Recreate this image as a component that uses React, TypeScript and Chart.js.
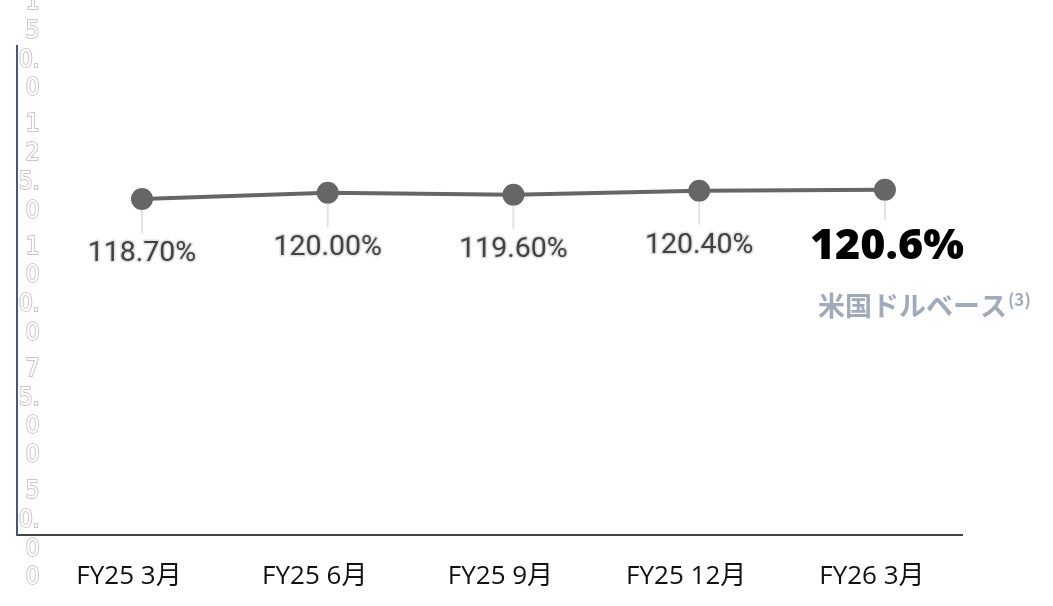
import { useEffect, useRef } from "react";
import { Chart, registerables } from "chart.js";

Chart.register(...registerables);

// Quarter-end periods along the x axis
const PERIODS = ["FY25 3月", "FY25 6月", "FY25 9月", "FY25 12月", "FY26 3月"];
// Ratio (%) at each period
const RATIO = [118.7, 120.0, 119.6, 120.4, 120.6];
// Value axis range and tick step
const Y_MIN = 50;
const Y_MAX = 150;
const Y_STEP = 25;
// Horizontal extent of the period axis (in period index units)
const X_MIN = -0.673;
const X_MAX = 4.415;
// Caption under the latest value
const LATEST_NOTE = "米国ドルベース";
const LATEST_NOTE_MARK = "(3)";

const WIDTH = 1053;
const HEIGHT = 606;
const POINT_RADIUS = 11;
const X_AXIS_HEIGHT = 71;

// "150.0" -> ["1", "5", "0.", "0"]: one character per line, decimal point kept with its digit
function stackDigits(v: number): string[] {
  const s = Number(v).toPrecision(4);
  const lines: string[] = [];
  for (const ch of s) {
    if (ch === "." && lines.length) lines[lines.length - 1] += ch;
    else lines.push(ch);
  }
  return lines;
}

const valueLabels = {
  id: "valueLabels",
  afterDatasetsDraw(chart: any) {
    const ctx: CanvasRenderingContext2D = chart.ctx;
    const meta = chart.getDatasetMeta(0);
    const lastIndex = meta.data.length - 1;
    meta.data.forEach((pt: any, i: number) => {
      const { x, y } = pt.getProps(["x", "y"], true);
      const value = RATIO[i];
      const isLatest = i === lastIndex;
      ctx.save();
      // leader from the marker down to its label
      ctx.strokeStyle = "#e2e2e2";
      ctx.lineWidth = 2;
      ctx.beginPath();
      ctx.moveTo(x, y + POINT_RADIUS);
      ctx.lineTo(x, y + (isLatest ? 30 : 34));
      ctx.stroke();

      ctx.textAlign = "center";
      ctx.textBaseline = "middle";
      ctx.lineJoin = "round";
      if (isLatest) {
        ctx.font = "800 43px 'Open Sans'";
        ctx.fillStyle = "#000000";
        ctx.fillText(value.toFixed(1) + "%", x + 2, y + 57);

        ctx.textAlign = "left";
        ctx.font = "bold 27px 'Noto Sans CJK JP'";
        ctx.fillStyle = "#a1aab8";
        const noteX = x - 67;
        const noteY = y + 116;
        ctx.fillText(LATEST_NOTE, noteX, noteY);
        const w = ctx.measureText(LATEST_NOTE).width;
        ctx.font = "bold 17px 'Noto Sans CJK JP'";
        ctx.fillText(LATEST_NOTE_MARK, noteX + w + 1, noteY - 6);
      } else {
        const text = value.toFixed(2) + "%";
        const ty = y + 55;
        ctx.font = "28.5px Roboto";
        ctx.strokeStyle = "#e0e0e0";
        ctx.lineWidth = 3;
        ctx.strokeText(text, x, ty);
        ctx.fillStyle = "#424242";
        ctx.fillText(text, x, ty);
      }
      ctx.restore();
    });
  },
};

export default function App() {
  const canvasRef = useRef<HTMLCanvasElement | null>(null);

  useEffect(() => {
    if (!canvasRef.current) return;
    const chart = new Chart(canvasRef.current, {
      type: "line",
      data: {
        datasets: [
          {
            data: RATIO.map((v, i) => ({ x: i, y: v })),
            borderColor: "#666666",
            borderWidth: 4,
            pointRadius: POINT_RADIUS,
            pointBackgroundColor: "#666666",
            pointBorderColor: "#666666",
            pointBorderWidth: 0,
            tension: 0,
          },
        ],
      },
      options: {
        animation: false,
        responsive: false,
        layout: { padding: { left: 13, top: 46, right: 91, bottom: 0 } },
        plugins: { legend: { display: false }, tooltip: { enabled: false } },
        scales: {
          x: {
            type: "linear",
            min: X_MIN,
            max: X_MAX,
            afterBuildTicks: (scale: any) => {
              scale.ticks = PERIODS.map((_, i) => ({ value: i }));
            },
            afterFit: (scale: any) => {
              scale.height = X_AXIS_HEIGHT;
            },
            grid: { display: false, drawTicks: false },
            border: { display: true, color: "#444444", width: 2 },
            ticks: {
              autoSkip: false,
              maxRotation: 0,
              padding: 26,
              labelOffset: -13,
              color: "#111111",
              font: { family: "'Open Sans', 'Noto Sans CJK JP'", size: 26 },
              callback: (v: any) => PERIODS[Number(v)] ?? "",
            },
          },
          y: {
            min: Y_MIN,
            max: Y_MAX,
            grid: { display: false, drawTicks: false },
            border: { display: true, color: "#4b5577", width: 2 },
            afterFit: (scale: any) => {
              scale.paddingTop = 0;
              scale.paddingBottom = 0;
            },
            ticks: {
              stepSize: Y_STEP,
              autoSkip: false,
              mirror: true,
              crossAlign: "far",
              padding: 2,
              color: "#ffffff",
              textStrokeColor: "#c8c8c8",
              textStrokeWidth: 2,
              font: {
                family: "'Liberation Sans Narrow', 'DejaVu Sans Condensed', 'Liberation Sans'",
                size: 24,
                lineHeight: 1.2,
              },
              callback: (v: any) => stackDigits(Number(v)),
            },
          },
        },
      },
      plugins: [valueLabels],
    });
    return () => chart.destroy();
  }, []);

  return (
    <div style={{ position: "fixed", left: 0, top: 0, width: WIDTH, height: HEIGHT }}>
      <canvas ref={canvasRef} width={WIDTH} height={HEIGHT} />
    </div>
  );
}
